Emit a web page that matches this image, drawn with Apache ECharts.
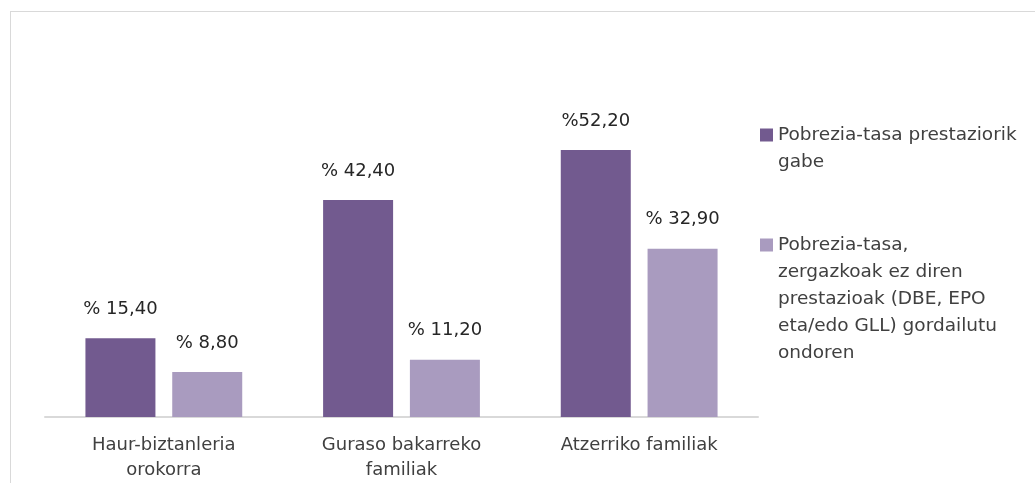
<!DOCTYPE html>
<html>
<head>
<meta charset="utf-8">
<script src="https://cdn.jsdelivr.net/npm/echarts@6/dist/echarts.min.js"></script>
<style>
  html, body { margin: 0; padding: 0; background: #fff; overflow: hidden; }
  #frame { position: absolute; left: 10px; top: 11px; width: 1100px; height: 600px; border: 1px solid #d9d9d9; }
  #chart { position: absolute; left: 0; top: 0; width: 1035px; height: 483px; }
</style>
</head>
<body>
<div id="frame"></div>
<div id="chart"></div>
<script>
const categories = ["Haur-biztanleria\norokorra", "Guraso bakarreko\nfamiliak", "Atzerriko familiak"];
const seriesNames = [
  "Pobrezia-tasa prestaziorik\ngabe",
  "Pobrezia-tasa,\nzergazkoak ez diren\nprestazioak (DBE, EPO\neta/edo GLL) gordailutu\nondoren",
];
const withoutBenefits = [15.4, 42.4, 52.2];
const afterBenefits = [8.8, 11.2, 32.9];
const withoutLabels = ["% 15,40", "% 42,40", "%52,20"];
const afterLabels = ["% 8,80", "% 11,20", "% 32,90"];

const FONT = "DejaVu Sans";
const DARK = "#725a8f";
const LIGHT = "#a99bbf";
const LINE_H = 27;

const chart = echarts.init(document.getElementById("chart"));

// one legend per series so each can sit where the original puts it;
// blank lines in front keep the square level with the first text line
function legendFor(name, firstLineY) {
  const lines = name.split("\n").length;
  return {
    orient: "vertical",
    left: 760,
    top: firstLineY - ((2 * lines - 1) * LINE_H) / 2,
    padding: 0,
    itemWidth: 13,
    itemHeight: 13,
    icon: "rect",
    data: [name],
    formatter: (n) => "\n".repeat(lines - 1) + n,
    textStyle: { fontFamily: FONT, fontSize: 18.5, color: "#404040", lineHeight: LINE_H },
  };
}

function labelsFrom(list) {
  return {
    show: true,
    position: "top",
    distance: 20,
    fontFamily: FONT,
    fontSize: 18,
    color: "#262626",
    formatter: (p) => list[p.dataIndex],
  };
}

chart.setOption({
  animation: false,
  legend: [legendFor(seriesNames[0], 135), legendFor(seriesNames[1], 245)],
  grid: { left: 45, right: 277, top: 110, bottom: 66 },
  xAxis: {
    type: "category",
    data: categories,
    axisLine: { lineStyle: { color: "#d9d9d9", width: 2 } },
    axisTick: { show: false },
    axisLabel: { fontFamily: FONT, fontSize: 18, color: "#404040", lineHeight: 25, margin: 16 },
  },
  yAxis: {
    type: "value",
    min: 0,
    max: 60,
    show: false,
  },
  series: [
    {
      name: seriesNames[0],
      type: "bar",
      data: withoutBenefits,
      barWidth: 70,
      barGap: "24%",
      itemStyle: { color: DARK },
      label: labelsFrom(withoutLabels),
    },
    {
      name: seriesNames[1],
      type: "bar",
      data: afterBenefits,
      barWidth: 70,
      barGap: "24%",
      itemStyle: { color: LIGHT },
      label: labelsFrom(afterLabels),
    },
  ],
});
</script>
</body>
</html>
